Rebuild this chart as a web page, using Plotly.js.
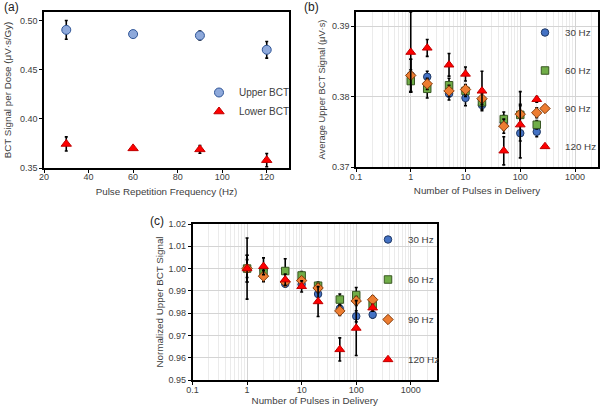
<!DOCTYPE html>
<html><head><meta charset="utf-8">
<script src="https://cdn.plot.ly/plotly-3.0.1.min.js"></script>
<style>body{margin:0;background:#fff}#chart{width:602px;height:408px}</style>
</head><body><div id="chart"></div>
<script>
// ---- Panel (a) data ----
const freqA = [30, 60, 90, 120];
const upperBCT = [0.4908, 0.4865, 0.4850, 0.4705];
const upperErr = [0.0095, 0.0010, 0.0045, 0.0085];
const lowerBCT = [0.3745, 0.3700, 0.3690, 0.3580];
const lowerErr = [0.0072, 0.0010, 0.0040, 0.0068];

// ---- Panels (b) and (c) data ----
const pulses = [1, 2, 5, 10, 20, 50, 100, 200];
const seriesNames = ['30 Hz', '60 Hz', '90 Hz', '120 Hz'];

const avg30  = [0.3830, 0.3828, 0.3804, 0.3798, 0.3788, 0.3763, 0.3748, 0.3750];
const avg60  = [0.3822, 0.3811, 0.3816, 0.3808, 0.3792, 0.3768, 0.3774, 0.3760];
const avg90  = [0.3830, 0.3818, 0.3808, 0.3810, 0.3797, 0.3758, 0.3775, 0.3777];
const avg120 = [0.3863, 0.3869, 0.3845, 0.3832, 0.3808, 0.3723, 0.3760, 0.3796];
const avgErr30  = [0.0023, 0.0008, 0.0009, 0.0011, 0.0006, 0.0010, 0.0011, 0.0007];
const avgErr60  = [0.0016, 0.0013, 0.0010, 0.0008, 0.0006, 0.0010, 0.0015, 0.0006];
const avgErr90  = [0.0023, 0.0008, 0.0008, 0.0007, 0.0008, 0.0010, 0.0012, 0.0007];
const avgErr120 = [0.0057, 0.0012, 0.0016, 0.0010, 0.0028, 0.0020, 0.0047, 0.0004];

const norm30  = [1.0000, 0.9995, 0.9932, 0.9929, 0.9886, 0.9820, 0.9786, 0.9793];
const norm60  = [1.0000, 0.9982, 0.9989, 0.9969, 0.9923, 0.9861, 0.9881, 0.9839];
const norm90  = [1.0000, 0.9966, 0.9940, 0.9946, 0.9913, 0.9810, 0.9855, 0.9860];
const norm120 = [1.0000, 1.0010, 0.9950, 0.9920, 0.9852, 0.9637, 0.9733, 0.9824];
const normErr30  = [0.0060, 0.0020, 0.0015, 0.0015, 0.0015, 0.0020, 0.0025, 0.0015];
const normErr60  = [0.0040, 0.0030, 0.0055, 0.0018, 0.0016, 0.0025, 0.0034, 0.0020];
const normErr90  = [0.0060, 0.0025, 0.0015, 0.0015, 0.0020, 0.0020, 0.0020, 0.0018];
const normErr120 = [0.0137, 0.0038, 0.0025, 0.0025, 0.0067, 0.0052, 0.0123, 0.0015];

// ---- styles ----
const markerStyles = [
  {symbol: 'circle', size: 7.5, color: '#4472C4', line: {color: '#1F3864', width: 1}},
  {symbol: 'square', size: 7.5, color: '#70AD47', line: {color: '#385723', width: 1}},
  {symbol: 'diamond', size: 8, color: '#ED7D31', line: {color: '#843C0C', width: 1}},
  {symbol: 'triangle-up', size: 8.5, color: '#FF0000', line: {color: '#C00000', width: 1}}
];
function errBar(arr) {
  return {type: 'data', array: arr, visible: true, color: '#000', thickness: 1.6, width: 1.5};
}

const traces = [];
traces.push({x: freqA, y: upperBCT, name: 'Upper BCT', type: 'scatter', mode: 'markers',
  xaxis: 'x', yaxis: 'y', legend: 'legend',
  marker: {symbol: 'circle', size: 9, color: '#8EA9DB', line: {color: '#2F5597', width: 1}},
  error_y: errBar(upperErr)});
traces.push({x: freqA, y: lowerBCT, name: 'Lower BCT', type: 'scatter', mode: 'markers',
  xaxis: 'x', yaxis: 'y', legend: 'legend',
  marker: {symbol: 'triangle-up', size: 9, color: '#FF0000', line: {color: '#C00000', width: 1}},
  error_y: errBar(lowerErr)});

const avgSeries = [avg30, avg60, avg90, avg120];
const avgErrs = [avgErr30, avgErr60, avgErr90, avgErr120];
const normSeries = [norm30, norm60, norm90, norm120];
const normErrs = [normErr30, normErr60, normErr90, normErr120];

seriesNames.forEach((nm, i) => {
  traces.push({x: pulses, y: avgSeries[i], name: nm, type: 'scatter', mode: 'markers',
    xaxis: 'x2', yaxis: 'y2', legend: 'legend2', legendgroup: 'b' + i,
    marker: markerStyles[i], error_y: errBar(avgErrs[i])});
});
seriesNames.forEach((nm, i) => {
  traces.push({x: pulses, y: normSeries[i], name: nm, type: 'scatter', mode: 'markers',
    xaxis: 'x3', yaxis: 'y3', legend: 'legend3', legendgroup: 'c' + i,
    marker: markerStyles[i], error_y: errBar(normErrs[i])});
});

// minor log gridline positions (2..9 within each decade)
const minorLog = [];
for (let e = -1; e <= 3; e++) {
  for (let m = 2; m <= 9; m++) minorLog.push(m * Math.pow(10, e));
}

const W = 602, H = 408;
const txt = '#404040';
const FAM = 'Liberation Sans, Arial, sans-serif';
const tickFont = {family: FAM, size: 9, color: txt};
const titleFont = {family: FAM, size: 9.8, color: txt};

function px(a, b) { return [a / W, b / W]; }
function py(top, bottom) { return [1 - bottom / H, 1 - top / H]; }

const frame = {showline: true, linecolor: '#000', linewidth: 1.6, mirror: true,
  ticks: 'outside', ticklen: 3, tickcolor: '#000', tickfont: tickFont, zeroline: false};

const layout = {
  width: W, height: H,
  margin: {l: 0, r: 0, t: 0, b: 0},
  paper_bgcolor: '#fff', plot_bgcolor: '#fff',
  font: {family: FAM, color: txt},
  xaxis: Object.assign({}, frame, {domain: px(44, 289), range: [20, 130], dtick: 20, tick0: 0,
    showgrid: false, anchor: 'y', ticklabelstandoff: -3,
    title: {text: 'Pulse Repetition Frequency (Hz)', font: titleFont, standoff: 7}}),
  yaxis: Object.assign({}, frame, {domain: py(12, 168), range: [0.35, 0.509], dtick: 0.05, tick0: 0,
    tickformat: '.2f', showgrid: false, anchor: 'x',
    title: {text: 'BCT Signal per Dose (μV·s/Gy)', font: titleFont, standoff: 6}}),
  xaxis2: Object.assign({}, frame, {domain: px(356, 598), type: 'log', range: [-1, 3.42], dtick: 1,
    showgrid: true, gridcolor: '#d4d4d4', anchor: 'y2', ticklabelstandoff: -2,
    minor: {tickmode: 'array', tickvals: minorLog, showgrid: true, gridcolor: '#ebebeb', gridwidth: 1, ticks: ''},
    title: {text: 'Number of Pulses in Delivery', font: titleFont, standoff: 6}}),
  yaxis2: Object.assign({}, frame, {domain: py(12, 167), range: [0.37, 0.392], dtick: 0.01, tick0: 0,
    tickformat: '.2f', showgrid: true, gridcolor: '#d4d4d4', anchor: 'x2',
    title: {text: 'Average Upper BCT Signal (μV·s)', font: {family: FAM, size: 9.3, color: txt}, standoff: 5}}),
  xaxis3: Object.assign({}, frame, {domain: px(192.5, 437), type: 'log', range: [-1, 3.48], dtick: 1,
    showgrid: true, gridcolor: '#d4d4d4', anchor: 'y3', ticklabelstandoff: -2,
    minor: {tickmode: 'array', tickvals: minorLog, showgrid: true, gridcolor: '#ebebeb', gridwidth: 1, ticks: ''},
    title: {text: 'Number of Pulses in Delivery', font: titleFont, standoff: 1}}),
  yaxis3: Object.assign({}, frame, {domain: py(224, 380), range: [0.95, 1.02], dtick: 0.01, tick0: 0,
    tickformat: '.2f', showgrid: true, gridcolor: '#d4d4d4', anchor: 'x3',
    title: {text: 'Normalized Upper BCT Signal', font: titleFont, standoff: 3}}),
  legend: {x: 199 / W, y: 1 - 78 / H, xanchor: 'left', yanchor: 'top', bgcolor: 'rgba(0,0,0,0)',
    font: {family: FAM, size: 10, color: txt}, tracegroupgap: 0, itemsizing: 'trace'},
  legend2: {x: 1, y: 1 - 18 / H, xanchor: 'right', yanchor: 'top', bgcolor: 'rgba(0,0,0,0)',
    font: {family: FAM, size: 9.8, color: txt}, tracegroupgap: 19},
  legend3: {x: 368 / W, y: 1 - 225 / H, xanchor: 'left', yanchor: 'top', bgcolor: 'rgba(0,0,0,0)',
    font: {family: FAM, size: 9.8, color: txt}, tracegroupgap: 21},
  annotations: [
    {text: '(a)', x: 2 / W, y: 1 - 7 / H, xref: 'paper', yref: 'paper', xanchor: 'left', yanchor: 'middle', showarrow: false,
     font: {family: FAM, size: 12, color: '#222'}},
    {text: '(b)', x: 302 / W, y: 1 - 7 / H, xref: 'paper', yref: 'paper', xanchor: 'left', yanchor: 'middle', showarrow: false,
     font: {family: FAM, size: 12, color: '#222'}},
    {text: '(c)', x: 148 / W, y: 1 - 221 / H, xref: 'paper', yref: 'paper', xanchor: 'left', yanchor: 'middle', showarrow: false,
     font: {family: FAM, size: 12, color: '#222'}}
  ],
  showlegend: true
};

Plotly.newPlot('chart', traces, layout, {displayModeBar: false, staticPlot: true});
</script></body></html>
